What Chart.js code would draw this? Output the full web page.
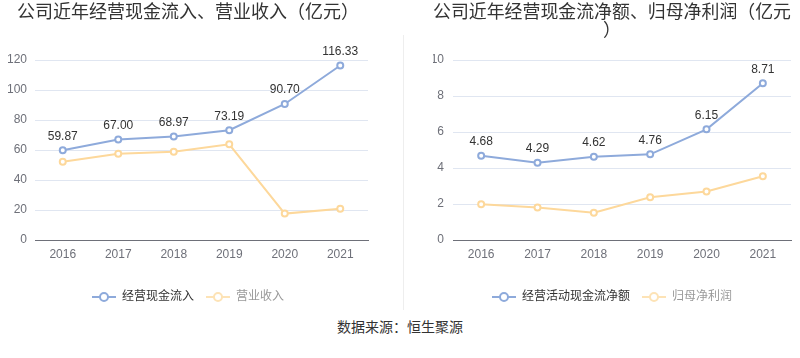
<!DOCTYPE html>
<html>
<head>
<meta charset="utf-8">
<script src="https://cdn.jsdelivr.net/npm/chart.js@4"></script>
<style>
    body{margin:0;background:#fff;width:800px;height:358px;overflow:hidden;position:relative}
    .box{position:absolute;top:0;width:400px;height:313px}
    #divider{position:absolute;left:403px;top:35px;width:1px;height:275px;background:#eeeeee}
    #source{position:absolute;left:0;top:316px;width:800px;text-align:center;font:14px 'Liberation Sans','Noto Sans CJK SC',sans-serif;color:#333}
</style>
</head>
<body>
<div class="box" style="left:0"><canvas id="chart1" width="400" height="313"></canvas></div>
<div class="box" style="left:400px"><canvas id="chart2" width="400" height="313"></canvas></div>
<div id="divider"></div>
<div id="source">数据来源：恒生聚源</div>
<script>
        //Data
        var years=['2016','2017','2018','2019','2020','2021']
        var cashInflow=[59.87,67.00,68.97,73.19,90.70,116.33]
        var revenue=[52.2,57.5,58.9,63.8,17.6,20.9]
        var netCashFlow=[4.68,4.29,4.62,4.76,6.15,8.71]
        var netProfit=[1.98,1.81,1.52,2.37,2.69,3.54]

        var blue='#8eaadb'
        var yellow='#fdd89b'

        Chart.defaults.font.family="'Liberation Sans','Noto Sans CJK SC',sans-serif"
        Chart.defaults.animation=false

        //Legend icon: line with hollow circle
        function legendIcon(color){
            var c=document.createElement('canvas')
            c.width=24
            c.height=12
            var g=c.getContext('2d')
            g.strokeStyle=color
            g.lineWidth=2
            g.beginPath()
            g.moveTo(0,6)
            g.lineTo(24,6)
            g.stroke()
            g.beginPath()
            g.arc(12,6,4,0,Math.PI*2)
            g.fillStyle='#fff'
            g.fill()
            g.stroke()
            return c
        }
        var icons=[legendIcon(blue),legendIcon('#fde3b6')]
        var legendColors=['#333333','#999999']

        //Value labels above the first series
        var valueLabels={
            id:'valueLabels',
            afterDatasetsDraw:function(chart){
                var ctx=chart.ctx
                var meta=chart.getDatasetMeta(0)
                var data=chart.data.datasets[0].data
                ctx.save()
                ctx.font="12px 'Liberation Sans',sans-serif"
                ctx.fillStyle='#333'
                ctx.textAlign='center'
                ctx.textBaseline='middle'
                meta.data.forEach(function(pt,i){
                    ctx.fillText(data[i].toFixed(2),pt.x,pt.y-14)
                })
                ctx.restore()
            }
        }

        function makeChart(id,title,titlePad,names,first,second,max,step,pad,axisWidth,tickPad){
            return new Chart(document.getElementById(id),{
                type:'line',
                data:{
                    labels:years,
                    datasets:[{
                        label:names[0],
                        data:first,
                        borderColor:blue,
                        borderWidth:2,
                        pointRadius:3,
                        pointBorderWidth:2,
                        pointBackgroundColor:'#fff',
                        pointBorderColor:blue,
                        tension:0
                    },
                    {
                        label:names[1],
                        data:second,
                        borderColor:yellow,
                        borderWidth:2,
                        pointRadius:3,
                        pointBorderWidth:2,
                        pointBackgroundColor:'#fff',
                        pointBorderColor:yellow,
                        tension:0
                    }]
                },
                options:{
                    responsive:false,
                    layout:{padding:{left:pad[0],right:pad[1],top:0,bottom:0}},
                    plugins:{
                        title:{
                            display:true,
                            text:title,
                            color:'#333',
                            font:{size:18,weight:'normal',lineHeight:1},
                            padding:{top:4,bottom:titlePad}
                        },
                        legend:{
                            position:'bottom',
                            labels:{
                                usePointStyle:true,
                                pointStyleWidth:24,
                                boxHeight:12,
                                padding:12,
                                font:{size:12},
                                generateLabels:function(chart){
                                    return chart.data.datasets.map(function(ds,i){
                                        return {
                                            text:ds.label,
                                            pointStyle:icons[i],
                                            fontColor:legendColors[i],
                                            datasetIndex:i,
                                            lineWidth:0,
                                            hidden:false
                                        }
                                    })
                                }
                            }
                        },
                        tooltip:{enabled:false}
                    },
                    scales:{
                        x:{
                            offset:true,
                            grid:{display:false,drawTicks:false},
                            border:{color:'#6E7079'},
                            ticks:{color:'#6E7079',padding:7,font:{size:12}},
                            afterFit:function(axis){axis.height=39}
                        },
                        y:{
                            min:0,
                            max:max,
                            grid:{color:'#E0E6F1',drawTicks:false},
                            border:{display:false},
                            ticks:{stepSize:step,color:'#6E7079',padding:tickPad,font:{size:12}},
                            afterFit:function(axis){axis.width=axisWidth}
                        }
                    }
                },
                plugins:[valueLabels]
            })
        }

        //Charts
        makeChart('chart1','公司近年经营现金流入、营业收入（亿元）',38,['经营现金流入','营业收入'],cashInflow,revenue,120,20,[8,32],27,8)
        makeChart('chart2',['公司近年经营现金流净额、归母净利润（亿元','）'],20,['经营活动现金流净额','归母净利润'],netCashFlow,netProfit,10,2,[33,9],20,9)
</script>
</body>
</html>
